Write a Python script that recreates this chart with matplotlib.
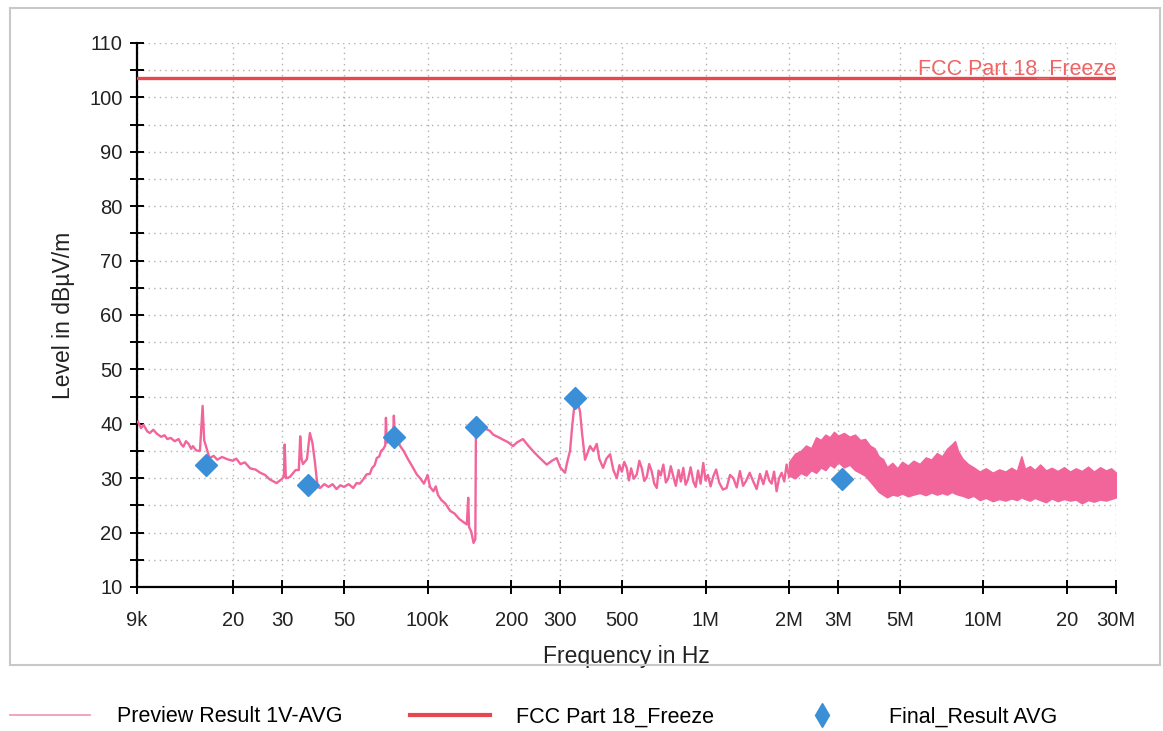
import matplotlib.pyplot as plt
from matplotlib.lines import Line2D
from matplotlib.patches import Rectangle
from matplotlib.ticker import FixedLocator, MultipleLocator, NullLocator
import numpy as np

plt.rcParams['font.family'] = ['Liberation Sans', 'DejaVu Sans']

trace_khz = [
    9.07, 9.3, 9.5, 9.8, 10.0, 10.3, 10.6, 11.0, 11.3, 11.57, 11.9, 12.3,
    12.7, 13.0, 13.22, 13.5, 13.8, 14.1, 14.3, 14.7, 15.16, 15.5, 15.7, 16.0,
    16.4,
    17.0, 17.5, 18.2, 19.0, 19.9, 20.5, 21.2, 22.0, 23.0, 24.0, 25.0, 26.0,
    27.0, 28.6, 29.8, 30.4, 30.6, 30.9, 31.9, 33.5, 34.4, 34.8, 35.2, 35.6,
    36.8, 37.7, 38.5, 39.3, 40.2, 41.0,
    42.5, 44.0, 45.5, 47.0, 48.5, 50.0, 52.0, 54.0, 55.5, 57.0, 58.7, 60.3,
    62.0, 63.0, 64.5, 65.6, 67.0, 68.0, 69.3, 70.4, 70.8, 71.3, 73.0, 75.2,
    75.6, 76.2, 79.7,
    82.0, 85.0, 88.0, 91.4, 94.0, 97.0, 100.0, 102.0, 104.9, 107.0, 109.0,
    112.0, 116.0, 120.5, 125.0, 130.0, 134.0, 138.4, 140.0, 141.0, 143.5,
    146.3, 148.5, 149.3,
    155.0, 160.0, 167.5, 172.2, 182.0, 186.6, 195.0, 202.8, 210.0, 220.3,
    230.0, 239.4, 250.0, 268.3, 280.0, 291.3, 300.0, 312.2, 318.0, 325.4,
    332.0, 339.2, 346.0, 353.5, 360.0, 368.5, 384.1, 395.0, 406.0,
    415.0, 428.0, 440.0, 453.6, 466.0, 479.5, 490.0, 500.0, 510.0, 520.8,
    530.0, 540.0, 552.0, 565.8, 578.0, 590.0, 602.0, 614.6, 627.0, 640.0,
    654.0, 667.6, 678.0, 690.0, 705.2, 720.0, 735.0, 750.0, 765.9, 782.0,
    800.0, 815.0, 832.0, 848.0, 865.0, 884.0, 903.7, 922.0, 940.0, 960.0,
    981.7, 1000.0, 1020.0, 1043.0, 1066.0, 1092.0, 1120.0, 1155.0, 1191.0,
    1225.0, 1260.0, 1295.0, 1330.0, 1365.0, 1400.0, 1442.0, 1485.0, 1528.0,
    1570.0, 1615.0, 1659.0, 1695.0, 1730.0, 1765.0, 1802.0, 1840.0, 1880.0,
    1920.0, 1958.0, 2000.0, 2040.0, 2080.0, 2126.0,
]
trace_level = [
    40.4, 39.2, 39.8, 38.6, 38.3, 38.9, 38.2, 37.6, 37.9, 37.2, 37.4, 36.8,
    37.2, 36.2, 35.8, 36.8, 36.3, 35.4, 35.9, 35.1, 35.0, 43.3, 37.0, 35.6,
    33.7,
    34.1, 33.4, 33.9, 33.5, 33.2, 33.6, 32.6, 32.9, 31.8, 31.6, 31.0, 30.6,
    29.8, 29.1, 29.8, 30.3, 36.2, 30.0, 30.2, 31.5, 31.5, 37.7, 33.5, 32.6,
    33.5, 38.3, 36.5, 33.0, 28.4, 28.2,
    28.9, 28.4, 28.9, 28.0, 28.7, 28.4, 28.9, 28.2, 29.1, 29.0, 29.8, 30.7,
    30.8, 31.8, 32.4, 33.7, 34.0, 35.0, 35.4, 36.0, 41.1, 36.5, 37.5, 38.3,
    41.5, 38.0, 35.9,
    35.0, 33.5, 32.2, 30.7, 30.0, 29.0, 30.6, 28.4, 27.6, 28.5, 26.9,
    26.0, 25.3, 24.0, 23.5, 22.5, 22.0, 21.5, 26.4, 21.0, 20.2,
    18.1, 18.8, 40.8,
    40.0, 39.2, 38.7, 38.0, 37.4, 37.1, 36.6, 35.9, 36.6, 37.2,
    36.0, 35.0, 34.0, 32.5, 33.2, 33.7, 32.0, 31.0, 33.0, 35.0,
    40.0, 44.5, 44.0, 42.3, 38.0, 33.4, 35.9, 35.0, 36.3,
    33.5, 31.9, 33.6, 34.4, 31.5, 30.0, 32.4, 31.2, 33.0, 31.9,
    29.6, 31.8, 29.9, 30.7, 33.2, 31.8, 29.5, 30.2, 32.6, 31.3,
    29.0, 28.2, 31.4, 30.5, 32.5, 29.2, 30.0, 32.2, 30.3, 28.6,
    31.5, 29.4, 31.9, 28.8, 29.8, 32.0, 29.4, 28.4, 31.4, 29.0,
    32.8, 29.6, 30.6, 28.5, 30.3, 31.6, 29.2, 27.9, 28.2,
    30.6, 30.0, 28.3, 31.3, 28.6, 29.5, 31.0, 29.4, 28.0,
    30.8, 28.9, 31.3, 29.6, 29.0, 31.2, 27.6, 30.0, 31.0,
    29.4, 32.5, 30.2, 31.0, 33.4, 33.1,
]

# Dense part of the scan above 2 MHz: lower / upper envelope (MHz, dBuV/m)
band_mhz = [
    2.0, 2.1, 2.2, 2.3, 2.4, 2.5, 2.6, 2.7, 2.8, 2.9, 3.0, 3.15, 3.3, 3.45,
    3.6, 3.75, 3.9, 4.05, 4.2, 4.35, 4.5, 4.7, 4.9, 5.1, 5.35, 5.6, 5.9, 6.2,
    6.5, 6.8, 7.1, 7.4, 7.7, 7.9, 8.1, 8.4, 8.8, 9.2, 9.7, 10.2, 10.8, 11.4,
    12.0, 12.6, 13.2, 13.7, 14.1, 14.7, 15.3, 16.0, 16.8, 17.6, 18.5, 19.5,
    20.5, 21.5, 22.6, 23.8, 25.0, 26.3, 27.6, 28.8, 30.0,
]
band_lo = [
    30.5, 30.0, 31.0, 30.5, 31.5, 31.0, 32.0, 31.5, 32.5, 32.0, 33.0, 32.0,
    32.5, 31.5, 31.0, 30.5, 29.5, 28.5, 27.5, 27.0, 26.5, 27.0, 26.8, 27.2,
    26.7, 27.0, 27.3, 26.9, 27.4, 27.0, 27.3, 27.0, 27.5, 27.2, 27.0, 26.8,
    26.4, 26.8, 26.0, 26.4, 25.8, 26.2, 25.9, 26.3, 26.0, 26.5, 26.2, 25.9,
    26.4, 26.0, 25.6, 26.3, 25.8, 26.2, 25.9, 26.1, 25.4, 26.0, 25.7, 26.1,
    25.9, 26.2, 26.5,
]
band_hi = [
    33.0, 34.5, 35.0, 36.0, 35.5, 37.5, 37.0, 38.0, 37.5, 38.5, 37.8, 38.3,
    37.6, 38.0, 37.0, 37.2, 36.0, 35.5, 34.0, 33.5, 32.0, 32.8, 31.8, 33.0,
    32.3, 33.2, 32.6, 33.8, 33.4, 34.6, 34.0, 35.4, 36.2, 36.8, 35.0, 33.6,
    32.6, 32.0, 31.2, 31.8, 31.0, 31.6, 31.2, 31.9, 31.3, 34.0, 31.7, 32.2,
    31.5, 32.5, 31.4, 31.9, 31.3, 32.0, 31.2, 31.8, 31.3, 32.1, 31.2, 32.0,
    31.4, 31.8, 31.0,
]

# Final measurement points (kHz, dBuV/m)
final_khz = [15.9, 37.1, 75.7, 149.0, 339.0, 3100.0]
final_level = [32.4, 28.7, 37.6, 39.4, 44.7, 29.9]

# Limit line
limit_name = 'FCC Part 18_Freeze'
limit_level = 103.5

xtick_hz = [9e3, 20e3, 30e3, 50e3, 100e3, 200e3, 300e3, 500e3,
            1e6, 2e6, 3e6, 5e6, 10e6, 20e6, 30e6]
xtick_labels = ['9k', '20', '30', '50', '100k', '200', '300', '500',
                '1M', '2M', '3M', '5M', '10M', '20', '30M']

pink = '#f2659b'
red = '#e8474f'
blue = '#3a8fd6'

W, H = 1163, 731
fig = plt.figure(figsize=(W / 100, H / 100), dpi=100)

# light frame around the diagram area
fig.patches.append(Rectangle((10 / W, 1 - 665 / H), 1150 / W, 657 / H,
                             transform=fig.transFigure, fill=False,
                             edgecolor='#c8c8c8', linewidth=1.5))

ax = fig.add_axes([137 / W, 1 - 587 / H, (1116 - 137) / W, (587 - 43) / H])

ax.plot(np.array(trace_khz) * 1e3, trace_level, color=pink, lw=1.7,
        zorder=3)
ax.fill_between(np.array(band_mhz) * 1e6, band_lo, band_hi, color=pink,
                lw=1.2, edgecolor=pink, zorder=3)
ax.axhline(limit_level, color=red, lw=2.4, zorder=4)
ax.text(30e6, limit_level + 0.75, limit_name, ha='right', va='baseline',
        fontsize=15.5, color='#ef6464', zorder=5)
ax.plot(np.array(final_khz) * 1e3, final_level, linestyle='none',
        marker='D', ms=11, color=blue, zorder=6)

ax.set_xscale('log')
ax.set_xlim(9e3, 30e6)
ax.set_ylim(10, 110)

ax.xaxis.set_major_locator(FixedLocator(xtick_hz))
ax.xaxis.set_minor_locator(NullLocator())
ax.set_xticklabels(xtick_labels)
ax.yaxis.set_major_locator(MultipleLocator(10))
ax.yaxis.set_minor_locator(MultipleLocator(5))

ax.tick_params(axis='x', which='both', direction='inout', length=10,
               width=1.4, labelsize=14.5, pad=12, labelcolor='#222222')
ax.tick_params(axis='y', which='both', direction='inout', length=10,
               width=1.4, labelsize=14.5, pad=5.5, labelcolor='#222222')

for side in ['top', 'right']:
    ax.spines[side].set_visible(False)
for side in ['left', 'bottom']:
    ax.spines[side].set_linewidth(1.6)

ax.grid(which='major', axis='x', color='#b0b0b0', lw=1.0,
        linestyle=(0, (1, 3)))
ax.grid(which='both', axis='y', color='#b0b0b0', lw=1.0,
        linestyle=(0, (1, 3)))
ax.set_axisbelow(True)

ax.set_xlabel('Frequency in Hz', fontsize=16.5, labelpad=11,
              color='#222222')
ax.set_ylabel('Level in dBµV/m', fontsize=16.5, labelpad=10,
              color='#222222')

handles = [
    Line2D([], [], color='#f39bbd', lw=1.3),
    Line2D([], [], color=red, lw=3),
    Line2D([], [], linestyle='none', marker='d', ms=12, color=blue),
]
labels = ['Preview Result 1V-AVG', 'FCC Part 18_Freeze', 'Final_Result AVG']
fig.legend(handles, labels, loc='center left',
           bbox_to_anchor=(10 / W, 1 - 717 / H), ncol=3, frameon=False,
           fontsize=15.5, handlelength=3.7, handletextpad=1.25,
           columnspacing=3.15, borderpad=0, borderaxespad=0)

fig.savefig('out.png', dpi=100)
